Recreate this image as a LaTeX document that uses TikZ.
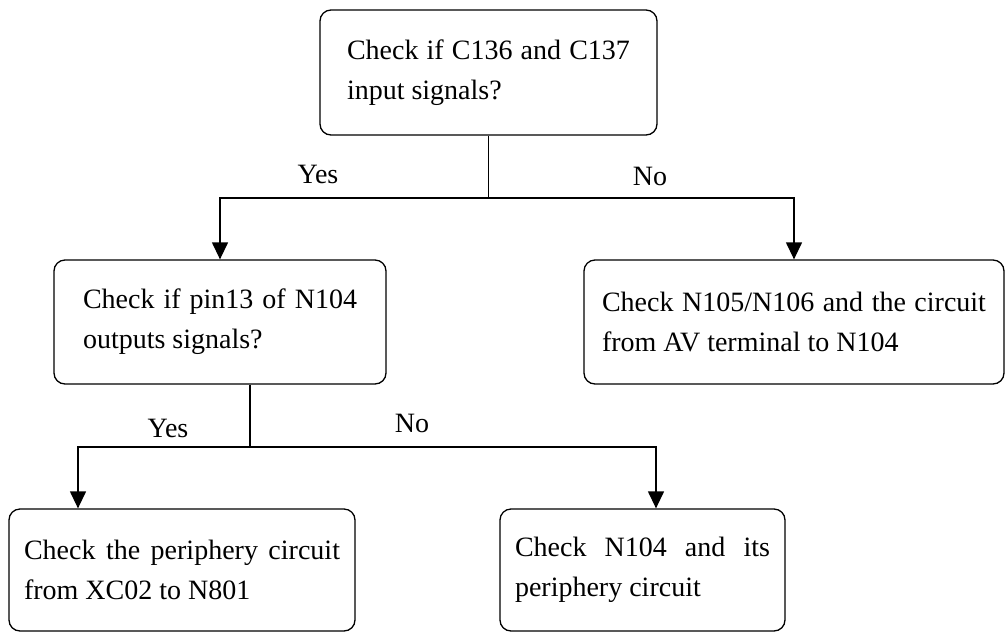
\documentclass[tikz,border=0pt]{standalone}
\usepackage{fontspec}
\setmainfont{Liberation Serif}
\usetikzlibrary{arrows.meta}
\begin{document}
\begin{tikzpicture}[x=1pt,y=-1pt,
  box/.style={draw, line width=1.3pt, rounded corners=11pt, inner xsep=0pt, inner ysep=0pt,
    align=justify, font=\fontsize{28}{40}\selectfont},
  link/.style={line width=1.3pt},
  arr/.style={link, -{Triangle[length=17pt,width=16pt]}},
  lbl/.style={font=\fontsize{28}{34}\selectfont, anchor=base, inner sep=0pt}]
\useasboundingbox (0,0) rectangle (1007,633);

% decision and action boxes
\node[box, minimum width=337pt, minimum height=125pt, text width=283pt] (q1) at (488.5,72.5)
  {Check if C136 and C137\linebreak input signals?};
\node[box, minimum width=332pt, minimum height=124pt, text width=274pt] (q2) at (220,322)
  {Check if pin13 of N104\linebreak outputs signals?};
\node[box, minimum width=420pt, minimum height=124pt, text width=384pt] (q3) at (794,322)
  {Check N105/N106 and the circuit\linebreak from AV terminal to N104};
\node[box, minimum width=346pt, minimum height=122pt, text width=316pt] (q4) at (182,570)
  {Check the periphery circuit\linebreak from XC02 to N801};
\node[box, minimum width=285pt, minimum height=122pt, text width=255pt] (q5) at (642.5,570)
  {Check N104 and its\linebreak periphery circuit};

% first branch
\coordinate (j1) at (488.5,198);
\draw[link] (q1.south) -- (j1);
\draw[arr] (j1) -| (q2.north);
\draw[arr] (j1) -| (q3.north);

% second branch
\coordinate (j2) at (250,447);
\coordinate (c4) at (78,0);
\coordinate (c5) at (656,0);
\draw[link] (q2.south -| j2) -- (j2);
\draw[arr] (j2) -| (q4.north -| c4);
\draw[arr] (j2) -| (q5.north -| c5);

% branch labels
\node[lbl] (yes1) at (318,183) {Yes};
\node[lbl] (no1) at (650,185) {No};
\node[lbl] (yes2) at (168,437) {Yes};
\node[lbl] (no2) at (412,432) {No};
\end{tikzpicture}
\end{document}
